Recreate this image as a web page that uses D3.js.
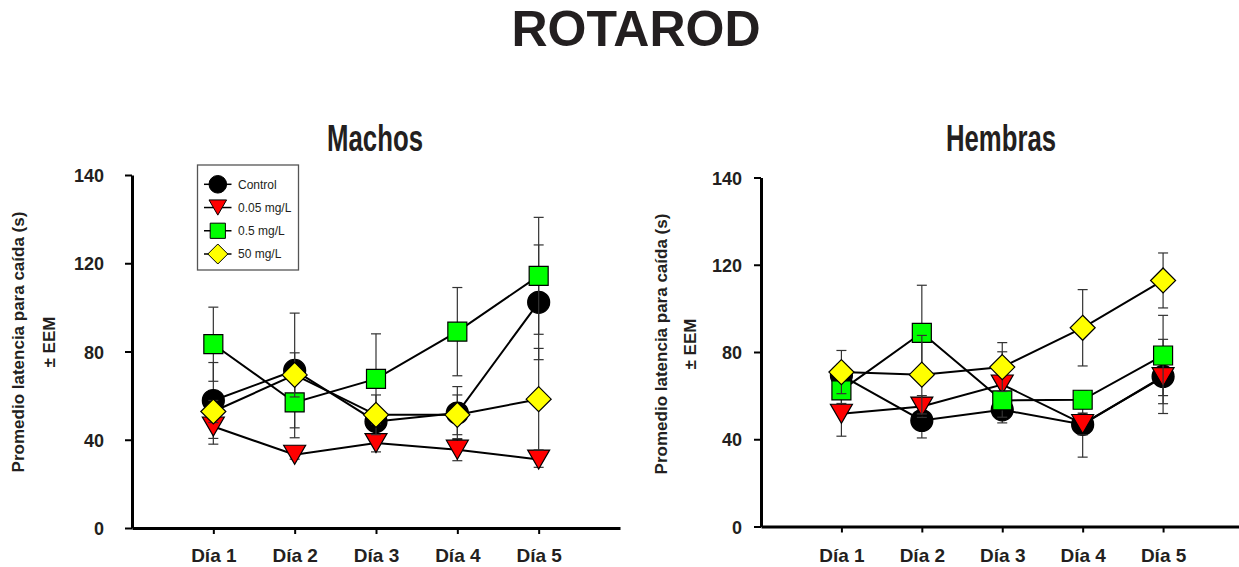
<!DOCTYPE html>
<html>
<head>
<meta charset="utf-8">
<script src="https://cdn.jsdelivr.net/npm/d3@7/dist/d3.min.js"></script>
<style>
  html, body { margin: 0; padding: 0; background: #ffffff; }
  svg { display: block; }
  text { font-family: "Liberation Sans", Arial, sans-serif; fill: #231f20; }
</style>
</head>
<body>
<svg id="chart" width="1239" height="567"></svg>
<script>
// ---------- data ----------
const days = ["Día 1", "Día 2", "Día 3", "Día 4", "Día 5"];
const groups = ["Control", "0.05 mg/L", "0.5 mg/L", "50 mg/L"];
const yTickValues = [0, 40, 80, 120, 160];
const yTickLabels = ["0", "40", "80", "120", "140"];

// Machos (means and ± EEM)
const machosControl   = [57.8, 71.4, 48.3, 52.1, 102.3];
const machosControlEEM = [17.2, 26.0, 4.0, 12.0, 26.0];
const machos005       = [46.0, 33.2, 38.5, 35.5, 31.0];
const machos005EEM    = [8.0, 2.0, 4.0, 5.0, 3.5];
const machos05        = [83.3, 56.9, 67.6, 89.0, 114.3];
const machos05EEM     = [16.8, 16.0, 20.4, 20.0, 26.5];
const machos50        = [52.8, 69.4, 51.3, 51.3, 58.4];
const machos50EEM     = [5.0, 10.0, 9.0, 9.0, 23.0];

// Hembras (means and ± EEM)
const hembrasControl   = [69.3, 48.6, 53.5, 46.8, 68.8];
const hembrasControlEEM = [5.0, 8.0, 6.0, 15.0, 17.0];
const hembras005       = [51.7, 55.0, 65.1, 47.0, 68.5];
const hembras005EEM    = [10.3, 5.0, 15.0, 5.0, 12.2];
const hembras05        = [62.4, 88.8, 57.8, 58.1, 78.4];
const hembras05EEM     = [6.0, 21.8, 4.0, 4.0, 18.4];
const hembras50        = [70.8, 69.6, 73.1, 91.1, 112.8];
const hembras50EEM     = [9.9, 18.0, 11.2, 17.5, 12.6];

// ---------- styles ----------
const fills = ["#000000", "#ff0000", "#00ff00", "#ffff00"];
const shapes = ["circle", "triangleDown", "square", "diamond"];
const ink = "#231f20";

function markerPath(kind, k) {
  if (kind === "circle") {
    const r = 11 * k;
    return `M${-r},0A${r},${r} 0 1,0 ${r},0A${r},${r} 0 1,0 ${-r},0Z`;
  }
  if (kind === "triangleDown") {
    const w = 11 * k, h = 9.5 * k;
    return `M${-w},${-h}L${w},${-h}L0,${h}Z`;
  }
  if (kind === "square") {
    const a = 9.5 * k;
    return `M${-a},${-a}L${a},${-a}L${a},${a}L${-a},${a}Z`;
  }
  const a = 12.5 * k;
  return `M0,${-a}L${a},0L0,${a}L${-a},0Z`;
}

const svg = d3.select("#chart");

// Main title
svg.append("text")
  .attr("x", 636).attr("y", 45.5)
  .attr("text-anchor", "middle")
  .style("font-size", "50px").style("font-weight", "bold")
  .text("ROTAROD");

const panels = [
  {
    title: "Machos", titleX: 375, titleW: 96,
    xRange: [132, 620], yRange: [528, 175],
    yTitleX: [24, 55], yTitleY: 342,
    tickLabelX: 104,
    means: [machosControl, machos005, machos05, machos50],
    eems: [machosControlEEM, machos005EEM, machos05EEM, machos50EEM],
    legend: true
  },
  {
    title: "Hembras", titleX: 1001, titleW: 110,
    xRange: [761, 1243.5], yRange: [526.5, 177.5],
    yTitleX: [667, 696], yTitleY: 344,
    tickLabelX: 742,
    means: [hembrasControl, hembras005, hembras05, hembras50],
    eems: [hembrasControlEEM, hembras005EEM, hembras05EEM, hembras50EEM],
    legend: false
  }
];

panels.forEach(p => {
  const x = d3.scalePoint().domain(days).range(p.xRange).padding(1);
  const y = d3.scaleLinear().domain([0, 160]).range(p.yRange);
  const g = svg.append("g");

  // Panel title
  g.append("text")
    .attr("x", p.titleX).attr("y", 150.5)
    .attr("text-anchor", "middle")
    .attr("textLength", p.titleW).attr("lengthAdjust", "spacingAndGlyphs")
    .style("font-size", "36px").style("font-weight", "bold")
    .text(p.title);

  // Y axis
  const yAxis = d3.axisLeft(y)
    .tickValues(yTickValues)
    .tickSize(7).tickSizeOuter(0)
    .tickFormat((d, i) => yTickLabels[i]);
  const ya = g.append("g").attr("transform", `translate(${p.xRange[0]},0)`).call(yAxis);
  ya.select(".domain").attr("stroke", "#000").attr("stroke-width", 3);
  ya.selectAll(".tick line").attr("stroke", "#000").attr("stroke-width", 2);
  ya.selectAll(".tick text")
    .attr("x", p.tickLabelX - p.xRange[0])
    .attr("dy", null).attr("y", 6.5)
    .attr("text-anchor", "end")
    .style("font-size", "18px").style("font-weight", "bold")
    .style("font-family", "'Liberation Sans', Arial, sans-serif")
    .attr("fill", ink);

  // X axis
  const xAxis = d3.axisBottom(x).tickSize(6).tickSizeOuter(0);
  const xa = g.append("g").attr("transform", `translate(0,${p.yRange[0]})`).call(xAxis);
  xa.select(".domain").attr("stroke", "#000").attr("stroke-width", 3);
  xa.selectAll(".tick line").attr("stroke", "#000").attr("stroke-width", 2);
  xa.selectAll(".tick text")
    .attr("dy", null).attr("y", 562 - p.yRange[0])
    .style("font-size", "19px").style("font-weight", "bold")
    .style("font-family", "'Liberation Sans', Arial, sans-serif")
    .attr("fill", ink);

  // Y axis title (two lines, rotated)
  const yTitles = ["Promedio latencia para caída (s)", "± EEM"];
  yTitles.forEach((t, i) => {
    g.append("text")
      .attr("transform", `translate(${p.yTitleX[i]},${p.yTitleY}) rotate(-90)`)
      .attr("text-anchor", "middle")
      .style("font-size", "17px").style("font-weight", "bold")
      .text(t);
  });

  // Series
  groups.forEach((name, s) => {
    const m = p.means[s], e = p.eems[s];
    const pts = days.map((d, i) => ({ d, m: m[i], e: e[i] }));
    const sg = g.append("g");

    // error bars
    const eb = sg.selectAll(".eb").data(pts).enter().append("g")
      .attr("stroke", "#333").attr("stroke-width", 1.2).attr("fill", "none");
    eb.append("line")
      .attr("x1", d => x(d.d)).attr("x2", d => x(d.d))
      .attr("y1", d => y(d.m - d.e)).attr("y2", d => y(d.m + d.e));
    eb.append("line")
      .attr("x1", d => x(d.d) - 5).attr("x2", d => x(d.d) + 5)
      .attr("y1", d => y(d.m + d.e)).attr("y2", d => y(d.m + d.e));
    eb.append("line")
      .attr("x1", d => x(d.d) - 5).attr("x2", d => x(d.d) + 5)
      .attr("y1", d => y(d.m - d.e)).attr("y2", d => y(d.m - d.e));

    // connecting line
    sg.append("path")
      .datum(pts)
      .attr("fill", "none").attr("stroke", "#000").attr("stroke-width", 2)
      .attr("d", d3.line().x(d => x(d.d)).y(d => y(d.m)));

    // markers
    sg.selectAll(".mk").data(pts).enter().append("path")
      .attr("transform", d => `translate(${x(d.d)},${y(d.m)})`)
      .attr("d", markerPath(shapes[s], 1))
      .attr("fill", fills[s]).attr("stroke", "#000").attr("stroke-width", 1.2);
  });

  // Legend
  if (p.legend) {
    const lg = g.append("g");
    lg.append("rect")
      .attr("x", 197.5).attr("y", 165).attr("width", 101).attr("height", 105)
      .attr("fill", "#fff").attr("stroke", "#555").attr("stroke-width", 1.3);
    const rowY = d3.scalePoint().domain(groups).range([184.3, 254]);
    groups.forEach((name, s) => {
      const yy = rowY(name);
      lg.append("line").attr("x1", 204).attr("x2", 231.5).attr("y1", yy).attr("y2", yy)
        .attr("stroke", "#000").attr("stroke-width", 1.5);
      lg.append("path")
        .attr("transform", `translate(217.8,${yy})`)
        .attr("d", markerPath(shapes[s], 0.8))
        .attr("fill", fills[s]).attr("stroke", "#000").attr("stroke-width", 1);
      lg.append("text")
        .attr("x", 238).attr("y", yy + 4.3)
        .style("font-size", "12px")
        .text(name);
    });
  }
});
</script>
</body>
</html>
